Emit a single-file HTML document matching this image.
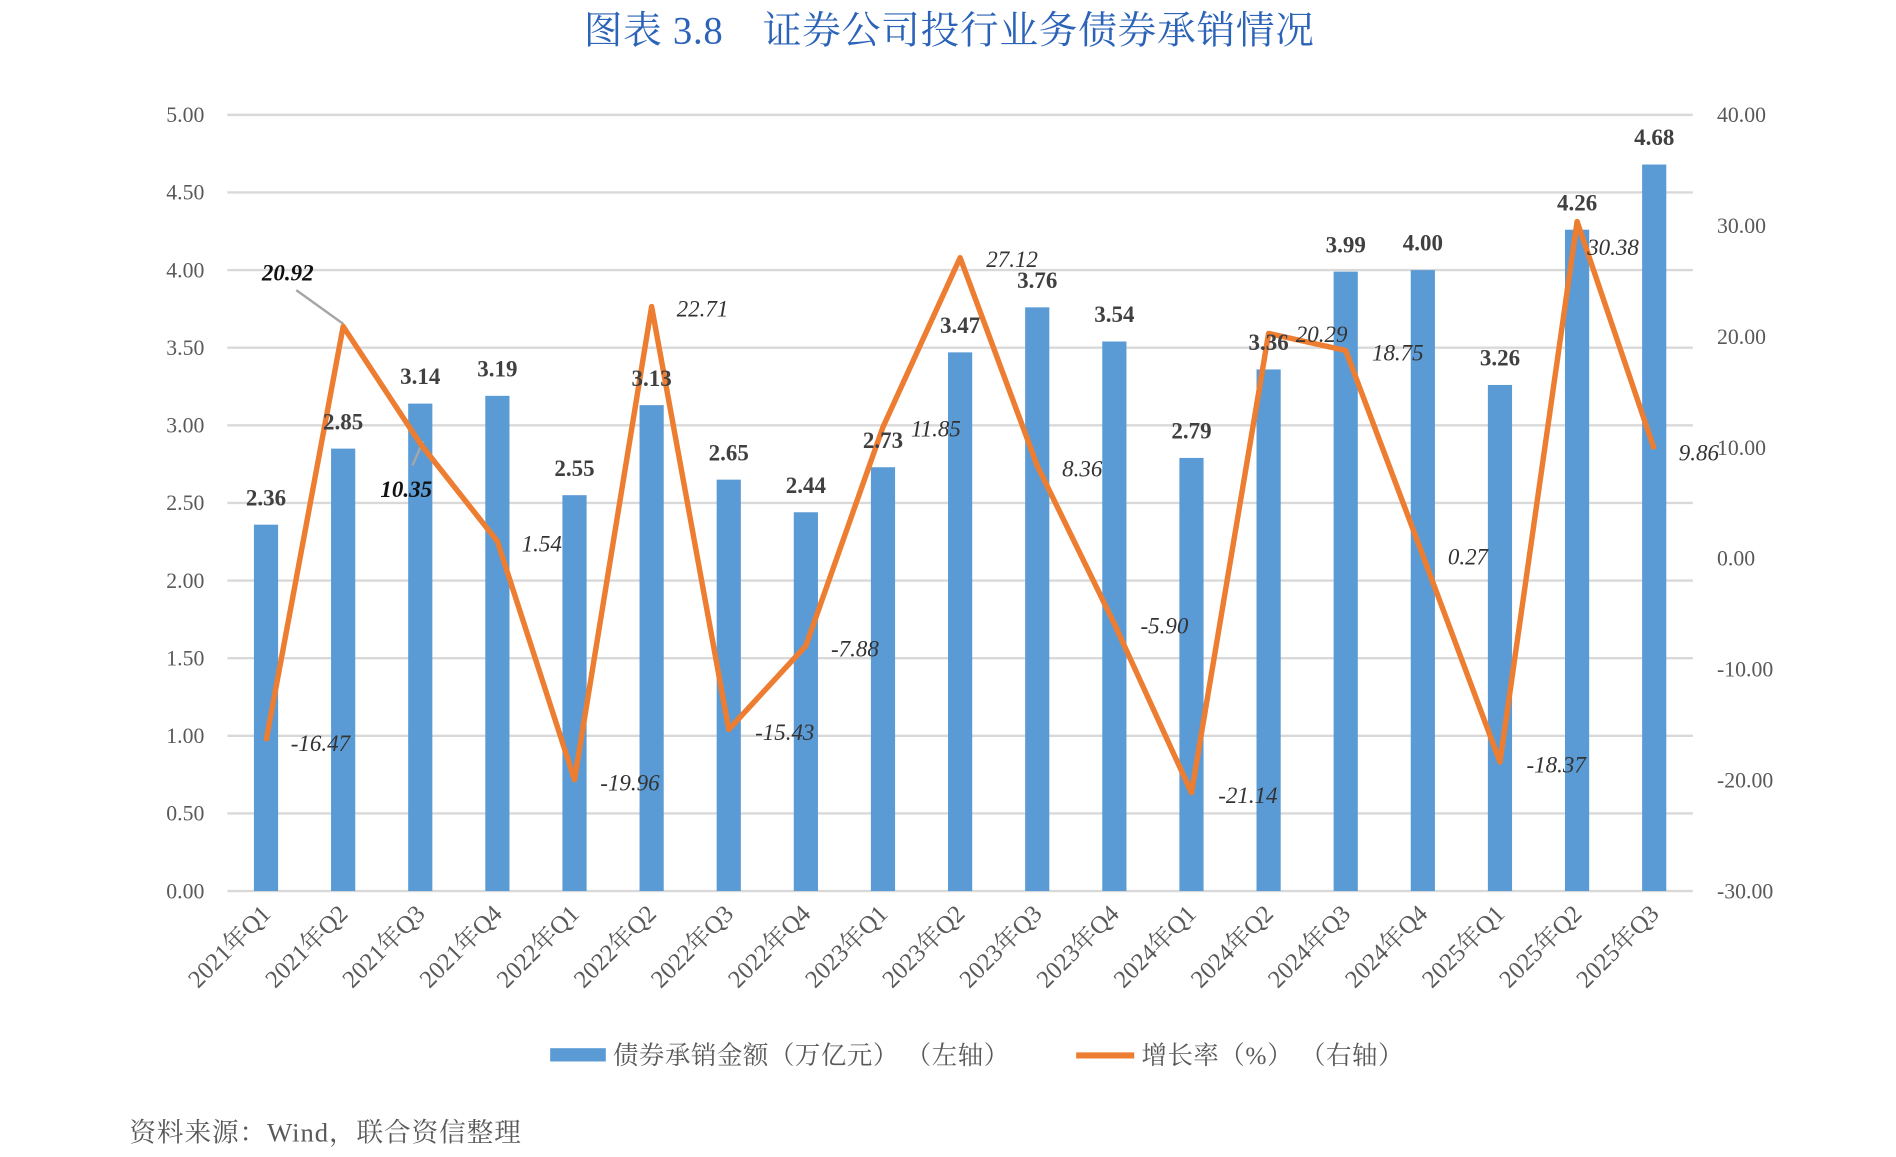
<!DOCTYPE html>
<html><head><meta charset="utf-8"><style>
html,body{margin:0;padding:0;background:#fff;}
svg{display:block;}
text{font-family:"Liberation Serif","Noto Serif CJK SC",serif;}
</style></head><body>
<svg id="s" width="1896" height="1157" viewBox="0 0 1568 957" preserveAspectRatio="none" xmlns="http://www.w3.org/2000/svg"></svg>
<script>
const s=document.getElementById('s');
let h='';
h+='<text x="785" y="36" text-anchor="middle" font-size="32" letter-spacing="0.6" fill="#2b63b9">图表 3.8　证券公司投行业务债券承销情况</text>';
for(let i=0;i<=10;i++){const y=737-i*64.2;h+=`<line x1="188" x2="1400" y1="${y}" y2="${y}" stroke="#d9d9d9" stroke-width="2"/>`;
h+=`<text x="169" y="${y+6}" text-anchor="end" font-size="18" fill="#595959">${(i*0.5).toFixed(2)}</text>`;}
for(let i=0;i<=7;i++){const v=-30+i*10;const y=737-i*91.71;h+=`<text x="1420" y="${y+6}" font-size="18" fill="#595959">${v.toFixed(2)}</text>`;}
const bars=[2.36,2.85,3.14,3.19,2.55,3.13,2.65,2.44,2.73,3.47,3.76,3.54,2.79,3.36,3.99,4.00,3.26,4.26,4.68];
const gr=[-16.47,20.92,10.35,1.54,-19.96,22.71,-15.43,-7.88,11.85,27.12,8.36,-5.90,-21.14,20.29,18.75,0.27,-18.37,30.38,9.86];
const labs=['2021年Q1','2021年Q2','2021年Q3','2021年Q4','2022年Q1','2022年Q2','2022年Q3','2022年Q4','2023年Q1','2023年Q2','2023年Q3','2023年Q4','2024年Q1','2024年Q2','2024年Q3','2024年Q4','2025年Q1','2025年Q2','2025年Q3'];
const gl=[[268,614],[241,225],[339,404],[451,449],[524,647],[584,255],[652,605],[710,536],[777,354],[840,214],[898,387],[966,517],[1035,657],[1096,276],[1159,291],[1217,460],[1290,632],[1337,204],[1408,374]];
const cx=i=>220+63.78*i;
bars.forEach((v,i)=>{const y=737-v*128.4;h+=`<rect x="${cx(i)-10}" y="${y}" width="20" height="${737-y}" fill="#5b9bd5"/>`;});
h+='<line x1="245" y1="240" x2="284" y2="268" stroke="#a6a6a6" stroke-width="2"/>';
h+='<line x1="341" y1="385" x2="350" y2="365" stroke="#a6a6a6" stroke-width="2"/>';
let pts=gr.map((v,i)=>`${cx(i)},${737-(v+30)*9.171}`).join(' ');
h+=`<polyline points="${pts}" fill="none" stroke="#ed7d31" stroke-width="4.5" stroke-linejoin="round"/>`;
bars.forEach((v,i)=>{const y=737-v*128.4;h+=`<text x="${cx(i)}" y="${y-16}" text-anchor="middle" font-size="19" font-weight="bold" fill="#404040">${v.toFixed(2)}</text>`;});
gr.forEach((v,i)=>{const b=(i==1||i==2);h+=`<text x="${gl[i][0]-3}" y="${gl[i][1]+7}" text-anchor="middle" font-size="19" font-style="italic" ${b?'font-weight="bold" fill="#111"':'fill="#333"'}>${v.toFixed(2)}</text>`;});
labs.forEach((l,i)=>{h+=`<text transform="translate(${cx(i)+5},757) rotate(-45)" text-anchor="end" font-size="20.5" fill="#595959">${l}</text>`;});
h+='<rect x="455" y="867" width="46" height="11" fill="#5b9bd5"/><text x="507" y="880" font-size="21" letter-spacing="0.5" fill="#595959">债券承销金额（万亿元）  （左轴）</text>';
h+='<line x1="890" y1="873" x2="938" y2="873" stroke="#ed7d31" stroke-width="5"/><text x="944" y="880" font-size="21" letter-spacing="0.5" fill="#595959">增长率（%）  （右轴）</text>';
h+='<text x="107" y="944" font-size="22" letter-spacing="0.8" fill="#595959">资料来源：Wind，联合资信整理</text>';
s.innerHTML=h;
</script>
</body></html>
